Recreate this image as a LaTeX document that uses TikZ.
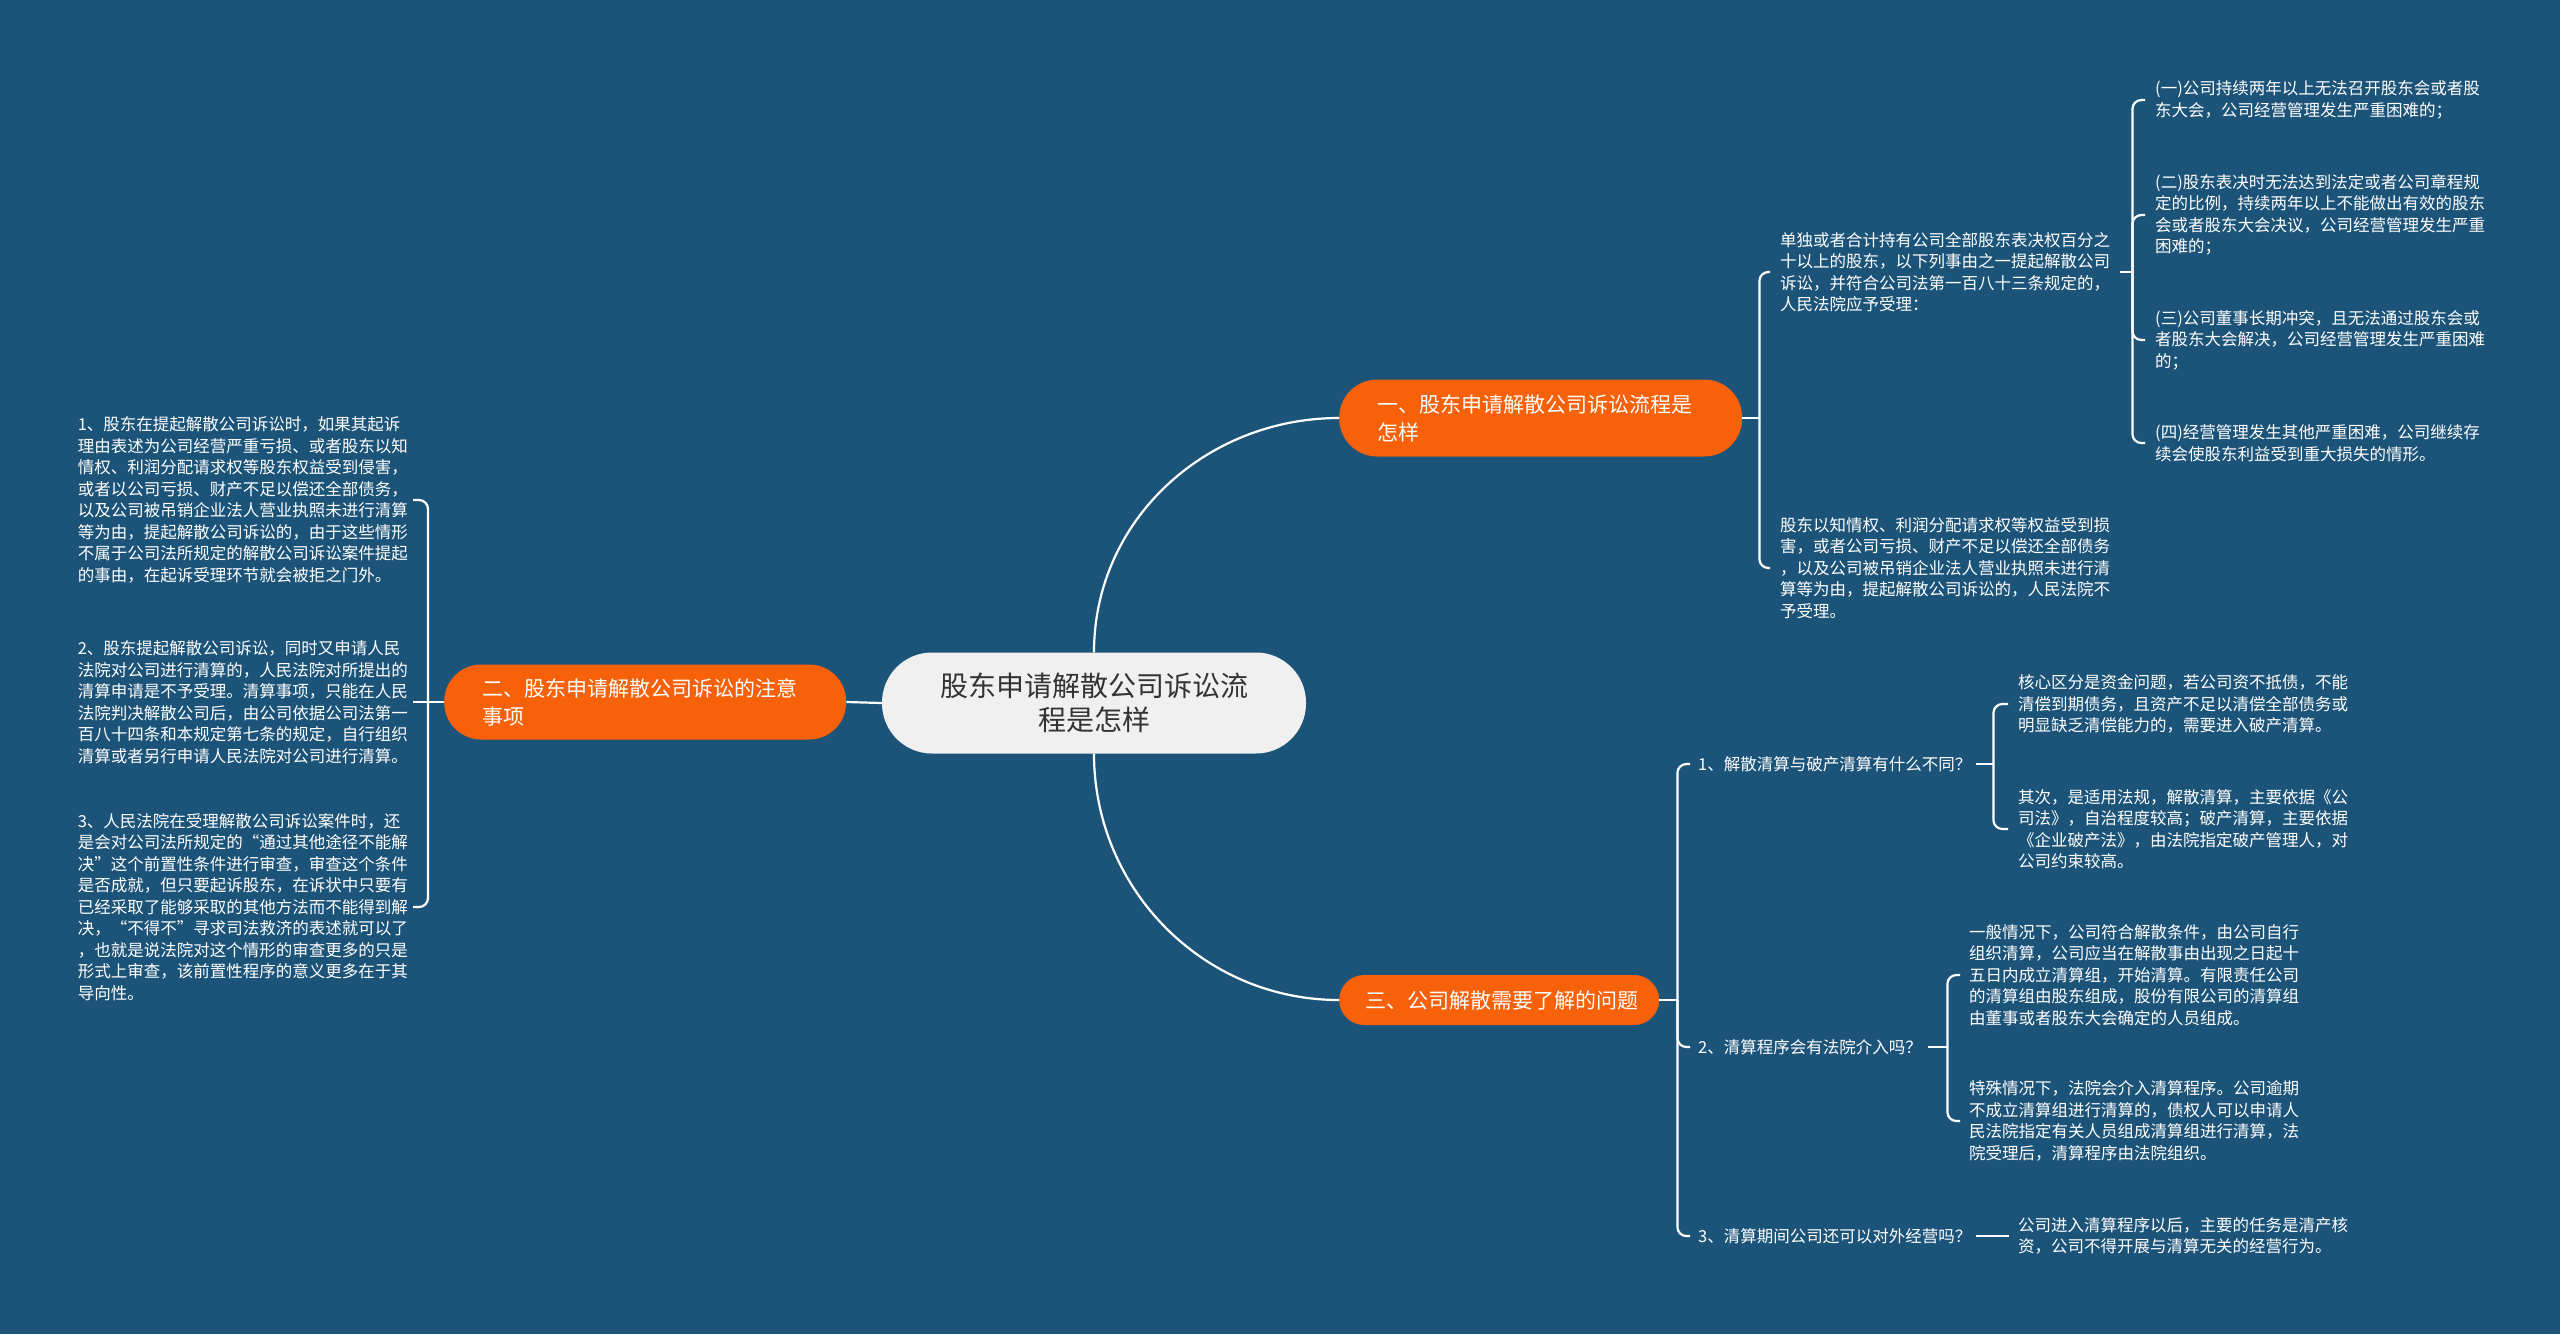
\documentclass[tikz,border=0pt]{standalone}
\usepackage{fontspec}
\setmainfont{Noto Sans CJK SC}
\usetikzlibrary{calc}
\definecolor{bgblue}{HTML}{1C5479}
\definecolor{topicorange}{HTML}{F7610A}
\definecolor{rootgray}{HTML}{F0F0F0}
\definecolor{rootink}{HTML}{333333}
\tikzset{
	root/.style={fill=rootgray, text=rootink, rounded corners=50pt, minimum width=424pt, minimum height=101pt, align=center, font=\fontsize{28}{34}\selectfont},
	topic/.style={fill=topicorange, text=white, anchor=west, align=left, font=\fontsize{21}{28}\selectfont},
	leaf/.style={text=white, align=left, text width=330pt, inner xsep=10pt, inner ysep=0pt, font=\fontsize{16.5}{21.5}\selectfont},
	link/.style={draw=white, line width=2.2pt},
	brace/.style={link, rounded corners=9pt},
}

\begin{document}
\begin{tikzpicture}[x=1pt, y=-1pt]
			%%%%% START %%%%%
			
			\fill[bgblue] (0, 0) rectangle (2560, 1334);
			\useasboundingbox (0, 0) rectangle (2560, 1334);
			
			\node[root] (root) at (1094, 703) {股东申请解散公司诉讼流\\程是怎样};
			
			\node[topic, text width=327pt, inner xsep=38pt, minimum height=77pt, rounded corners=38pt] (n1) at (1339, 418) {一、股东申请解散公司诉讼流程是\\怎样};
			\node[topic, text width=326pt, inner xsep=38pt, minimum height=75pt, rounded corners=37pt] (n2) at (444, 702) {二、股东申请解散公司诉讼的注意\\事项};
			\node[topic, text width=268pt, inner xsep=26pt, minimum height=50pt, rounded corners=25pt, align=center] (n3) at (1339, 1000) {三、公司解散需要了解的问题};
			
			\draw[link] (root.north) to[out=90, in=180] (n1.west);
			\draw[link] (root.west) -- (n2.east);
			\draw[link] (root.south) to[out=-90, in=180] (n3.west);
			
			% first branch
			\node[leaf, anchor=west] (a1) at (1770, 272) {单独或者合计持有公司全部股东表决权百分之\\十以上的股东，以下列事由之一提起解散公司\\诉讼，并符合公司法第一百八十三条规定的，\\人民法院应予受理：};
			\node[leaf, anchor=west] (a2) at (1770, 568) {股东以知情权、利润分配请求权等权益受到损\\害，或者公司亏损、财产不足以偿还全部债务\\，以及公司被吊销企业法人营业执照未进行清\\算等为由，提起解散公司诉讼的，人民法院不\\予受理。};
			\coordinate (j1) at ([xshift=17pt]n1.east);
			\draw[link] (n1.east) -- (j1);
			\draw[brace] (j1) |- (a1.west);
			\draw[brace] (j1) |- (a2.west);
			
			\node[leaf, anchor=west] (g1) at (2145, 100) {(一)公司持续两年以上无法召开股东会或者股\\东大会，公司经营管理发生严重困难的；};
			\node[leaf, anchor=west] (g2) at (2145, 215) {(二)股东表决时无法达到法定或者公司章程规\\定的比例，持续两年以上不能做出有效的股东\\会或者股东大会决议，公司经营管理发生严重\\困难的；};
			\node[leaf, anchor=west] (g3) at (2145, 340) {(三)公司董事长期冲突，且无法通过股东会或\\者股东大会解决，公司经营管理发生严重困难\\的；};
			\node[leaf, anchor=west] (g4) at (2145, 443) {(四)经营管理发生其他严重困难，公司继续存\\续会使股东利益受到重大损失的情形。};
			\coordinate (ja) at ([xshift=12pt]a1.east);
			\draw[link] (a1.east) -- (ja);
			\draw[brace] (ja) |- (g1.west);
			\draw[brace] (ja) |- (g2.west);
			\draw[brace] (ja) |- (g3.west);
			\draw[brace] (ja) |- (g4.west);
			
			% second branch
			\node[leaf, anchor=east, text width=327pt, inner xsep=8pt] (L1) at (413, 500) {1、股东在提起解散公司诉讼时，如果其起诉\\理由表述为公司经营严重亏损、或者股东以知\\情权、利润分配请求权等股东权益受到侵害，\\或者以公司亏损、财产不足以偿还全部债务，\\以及公司被吊销企业法人营业执照未进行清算\\等为由，提起解散公司诉讼的，由于这些情形\\不属于公司法所规定的解散公司诉讼案件提起\\的事由，在起诉受理环节就会被拒之门外。};
			\node[leaf, anchor=east, text width=327pt, inner xsep=8pt] (L2) at (413, 702) {2、股东提起解散公司诉讼，同时又申请人民\\法院对公司进行清算的，人民法院对所提出的\\清算申请是不予受理。清算事项，只能在人民\\法院判决解散公司后，由公司依据公司法第一\\百八十四条和本规定第七条的规定，自行组织\\清算或者另行申请人民法院对公司进行清算。};
			\node[leaf, anchor=east, text width=327pt, inner xsep=8pt] (L3) at (413, 907) {3、人民法院在受理解散公司诉讼案件时，还\\是会对公司法所规定的“通过其他途径不能解\\决”这个前置性条件进行审查，审查这个条件\\是否成就，但只要起诉股东，在诉状中只要有\\已经采取了能够采取的其他方法而不能得到解\\决，“不得不”寻求司法救济的表述就可以了\\，也就是说法院对这个情形的审查更多的只是\\形式上审查，该前置性程序的意义更多在于其\\导向性。};
			\coordinate (j2) at ([xshift=-16pt]n2.west);
			\draw[link] (n2.west) -- (j2);
			\draw[brace] (j2) |- (L1.east);
			\draw[link] (j2) -- (L2.east);
			\draw[brace] (j2) |- (L3.east);
			
			% third branch
			\node[leaf, anchor=west, text width=270pt, inner xsep=8pt] (c1) at (1690, 764) {1、解散清算与破产清算有什么不同？};
			\node[leaf, anchor=west, text width=222pt, inner xsep=8pt] (c2) at (1690, 1047) {2、清算程序会有法院介入吗？};
			\node[leaf, anchor=west, text width=270pt, inner xsep=8pt] (c3) at (1690, 1236) {3、清算期间公司还可以对外经营吗？};
			\coordinate (j3) at ([xshift=18pt]n3.east);
			\draw[link] (n3.east) -- (j3);
			\draw[brace] (j3) |- (c1.west);
			\draw[brace] (j3) |- (c2.west);
			\draw[brace] (j3) |- (c3.west);
			
			\node[leaf, anchor=west] (t1) at (2008, 704) {核心区分是资金问题，若公司资不抵债，不能\\清偿到期债务，且资产不足以清偿全部债务或\\明显缺乏清偿能力的，需要进入破产清算。};
			\node[leaf, anchor=west] (t2) at (2008, 829) {其次，是适用法规，解散清算，主要依据《公\\司法》，自治程度较高；破产清算，主要依据\\《企业破产法》，由法院指定破产管理人，对\\公司约束较高。};
			\coordinate (jc1) at ([xshift=17pt]c1.east);
			\draw[link] (c1.east) -- (jc1);
			\draw[brace] (jc1) |- (t1.west);
			\draw[brace] (jc1) |- (t2.west);
			
			\node[leaf, anchor=west, inner xsep=9pt] (d1) at (1960, 975) {一般情况下，公司符合解散条件，由公司自行\\组织清算，公司应当在解散事由出现之日起十\\五日内成立清算组，开始清算。有限责任公司\\的清算组由股东组成，股份有限公司的清算组\\由董事或者股东大会确定的人员组成。};
			\node[leaf, anchor=west, inner xsep=9pt] (d2) at (1960, 1121) {特殊情况下，法院会介入清算程序。公司逾期\\不成立清算组进行清算的，债权人可以申请人\\民法院指定有关人员组成清算组进行清算，法\\院受理后，清算程序由法院组织。};
			\coordinate (jc2) at ([xshift=19pt]c2.east);
			\draw[link] (c2.east) -- (jc2);
			\draw[brace] (jc2) |- (d1.west);
			\draw[brace] (jc2) |- (d2.west);
			
			\node[leaf, anchor=west, inner xsep=9pt] (e1) at (2009, 1236) {公司进入清算程序以后，主要的任务是清产核\\资，公司不得开展与清算无关的经营行为。};
			\draw[link] (c3.east) -- (e1.west);
			
			%%%%% END %%%%%
\end{tikzpicture}
\end{document}
